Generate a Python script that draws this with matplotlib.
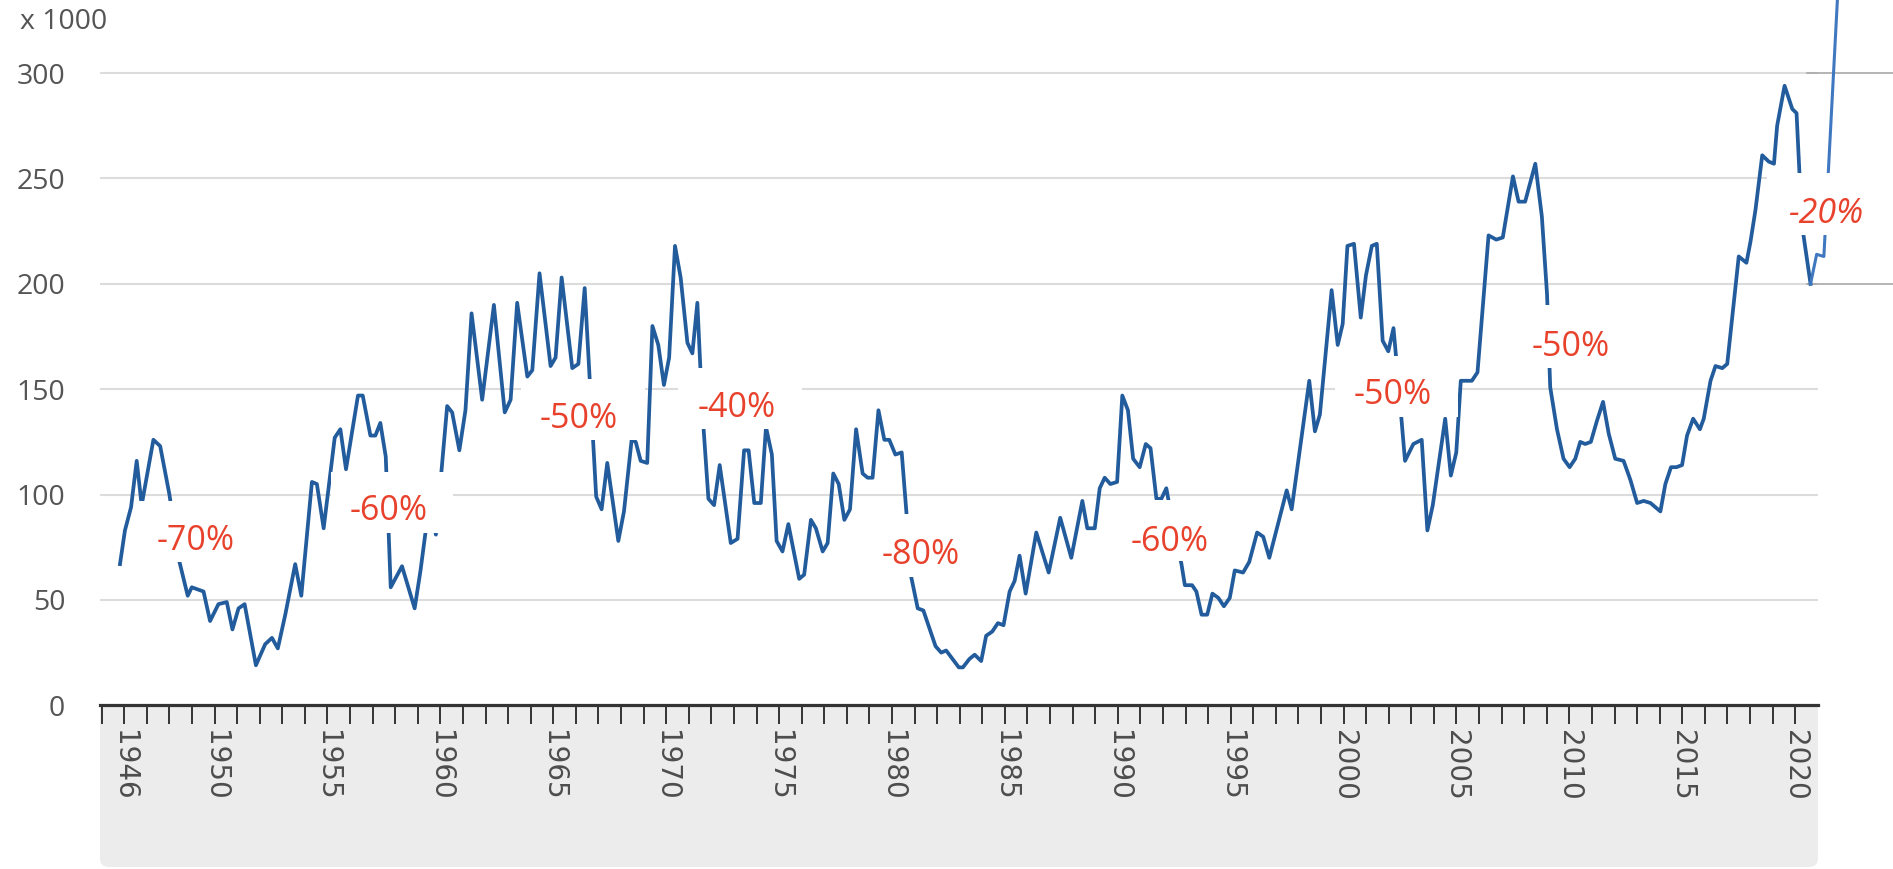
import matplotlib.pyplot as plt
from matplotlib.patches import Rectangle, FancyBboxPatch
from matplotlib.transforms import IdentityTransform

plt.rcParams['font.family'] = ['Open Sans', 'DejaVu Sans']

# series (x 1000)
years = [1945.81, 1946.03, 1946.30, 1946.55, 1946.77, 1947.29, 1947.59, 1948.00, 1948.40, 1948.81,
         1948.99, 1949.51, 1949.80, 1950.17, 1950.54, 1950.79, 1951.06, 1951.33, 1951.83, 1952.24,
         1952.54, 1952.80, 1953.13, 1953.57, 1953.84, 1954.31, 1954.53, 1954.83, 1955.32, 1955.57,
         1955.82, 1956.35, 1956.56, 1956.90, 1957.12, 1957.34, 1957.58, 1957.80, 1958.30, 1958.86,
         1959.12, 1959.34, 1959.55, 1959.80, 1960.30, 1960.52, 1960.84, 1961.11, 1961.38, 1961.85,
         1962.37, 1962.85, 1963.11, 1963.40, 1963.85, 1964.07, 1964.39, 1964.88, 1965.10, 1965.37,
         1965.84, 1966.11, 1966.39, 1966.90, 1967.14, 1967.39, 1967.88, 1968.13, 1968.47, 1968.65,
         1968.87, 1969.16, 1969.39, 1969.65, 1969.90, 1970.13, 1970.39, 1970.64, 1970.94, 1971.16,
         1971.38, 1971.60, 1971.87, 1972.12, 1972.37, 1972.86, 1973.16, 1973.45, 1973.65, 1973.90,
         1974.19, 1974.42, 1974.68, 1974.89, 1975.15, 1975.41, 1975.89, 1976.11, 1976.41, 1976.63,
         1976.93, 1977.15, 1977.40, 1977.64, 1977.89, 1978.14, 1978.41, 1978.70, 1978.92, 1979.14,
         1979.40, 1979.66, 1979.88, 1980.15, 1980.43, 1980.65, 1980.85, 1981.14, 1981.39, 1981.93,
         1982.18, 1982.40, 1982.96, 1983.14, 1983.43, 1983.66, 1983.95, 1984.17, 1984.44, 1984.69,
         1984.94, 1985.21, 1985.43, 1985.65, 1985.92, 1986.39, 1986.94, 1987.45, 1987.94, 1988.43,
         1988.65, 1988.98, 1989.20, 1989.42, 1989.67, 1989.97, 1990.20, 1990.45, 1990.68, 1990.97,
         1991.24, 1991.45, 1991.71, 1991.93, 1992.15, 1992.45, 1992.82, 1992.97, 1993.29, 1993.48,
         1993.71, 1993.96, 1994.19, 1994.45, 1994.70, 1994.96, 1995.18, 1995.55, 1995.82, 1996.17,
         1996.44, 1996.71, 1997.48, 1997.70, 1998.48, 1998.73, 1998.95, 1999.47, 1999.74, 1999.96,
         2000.17, 2000.46, 2000.76, 2000.99, 2001.25, 2001.47, 2001.73, 2001.98, 2002.21, 2002.45,
         2002.72, 2003.09, 2003.46, 2003.71, 2003.95, 2004.50, 2004.75, 2004.99, 2005.19, 2005.68,
         2005.93, 2006.42, 2006.76, 2007.05, 2007.50, 2007.75, 2008.04, 2008.49, 2008.78, 2009.01,
         2009.15, 2009.45, 2009.74, 2010.01, 2010.26, 2010.48, 2010.70, 2010.95, 2011.22, 2011.49,
         2011.74, 2012.03, 2012.40, 2012.70, 2013.00, 2013.29, 2013.59, 2014.03, 2014.25, 2014.50,
         2014.74, 2014.99, 2015.21, 2015.48, 2015.78, 2015.95, 2016.25, 2016.47, 2016.77, 2016.99,
         2017.21, 2017.50, 2017.84, 2018.02, 2018.24, 2018.54, 2018.83, 2019.06, 2019.20, 2019.53,
         2019.87, 2020.06, 2020.30, 2020.68]
values = [67, 83, 94, 116, 95, 126, 123, 100, 70, 52,
          56, 54, 40, 48, 49, 36, 46, 48, 19, 29,
          32, 27, 43, 67, 52, 106, 105, 84, 127, 131,
          112, 147, 147, 128, 128, 134, 118, 56, 66, 46,
          64, 82, 95, 81, 142, 139, 121, 140, 186, 145,
          190, 139, 145, 191, 156, 159, 205, 161, 165, 203,
          160, 162, 198, 99, 93, 115, 78, 92, 126, 125,
          116, 115, 180, 171, 152, 165, 218, 203, 172, 167,
          191, 140, 98, 95, 114, 77, 79, 121, 121, 96,
          96, 132, 119, 78, 73, 86, 60, 62, 88, 84,
          73, 77, 110, 105, 88, 93, 131, 110, 108, 108,
          140, 126, 126, 119, 120, 90, 61, 46, 45, 28,
          25, 26, 18, 18, 22, 24, 21, 33, 35, 39,
          38, 54, 59, 71, 53, 82, 63, 89, 70, 97,
          84, 84, 103, 108, 105, 106, 147, 140, 117, 113,
          124, 122, 98, 98, 103, 85, 67, 57, 57, 54,
          43, 43, 53, 51, 47, 51, 64, 63, 68, 82,
          80, 70, 102, 93, 154, 130, 138, 197, 171, 181,
          218, 219, 184, 204, 218, 219, 173, 168, 179, 150,
          116, 124, 126, 83, 95, 136, 109, 120, 154, 154,
          158, 223, 221, 222, 251, 239, 239, 257, 232, 195,
          151, 131, 117, 113, 117, 125, 124, 125, 135, 144,
          129, 117, 116, 107, 96, 97, 96, 92, 105, 113,
          113, 114, 128, 136, 131, 136, 154, 161, 160, 162,
          184, 213, 210, 220, 235, 261, 258, 257, 275, 294,
          283, 281, 228, 200]

# last stretch, drawn lighter in the picture
tail_years = [2020.68, 2020.95, 2021.27, 2021.87]
tail_values = [200, 214, 213, 335]

year_ticks = list(range(1945, 2021))
year_labels = [str(y) if (y == 1946 or (y % 5 == 0 and y >= 1950)) else '' for y in year_ticks]
value_ticks = [0, 50, 100, 150, 200, 250, 300]

drops = ['-70%', '-60%', '-50%', '-40%', '-80%', '-60%', '-50%', '-50%', '-20%']

# layout of the white label boxes (years / values)
boxes = [(1946.59, 67.8, 5.07, 29.3), (1955.16, 81.8, 5.40, 28.9), (1963.57, 125.9, 5.49, 28.8),
         (1970.52, 131.1, 5.49, 29.1), (1978.71, 60.7, 5.45, 29.9), (1989.70, 68.5, 5.40, 28.7),
         (1999.62, 137.0, 5.45, 28.8), (2008.17, 160.1, 4.61, 29.9), (2018.75, 223.1, 5.70, 29.4)]
text_pos = [(1947.44, 73.9), (1956.00, 87.7), (1964.41, 131.6), (1971.41, 136.8), (1979.55, 67.1),
            (1990.55, 73.2), (2000.46, 143.0), (2008.31, 165.8), (2019.68, 228.9)]

W, H = 1893, 869
fig = plt.figure(figsize=(W / 100, H / 100), dpi=100)
ax = fig.add_axes([100 / W, (H - 705.3) / H, 1718 / W, 705.3 / H])

# grey band under the axis
band = FancyBboxPatch((100, 2), 1718, 190, boxstyle='round,pad=0,rounding_size=9',
                      transform=IdentityTransform(), facecolor='#ececec', edgecolor='none', zorder=-1)
fig.add_artist(band)

ax.plot(years, values, color='#235c9c', lw=2.7, zorder=2, solid_joinstyle='round')
ax.plot(tail_years, tail_values, color='#3f78c0', lw=2.2, zorder=2, clip_on=False)

# darker stubs of the pasted-in extension
for v in (300, 200):
    ax.plot([2020.52, 2024.5], [v, v], color='#a8a8a8', lw=1.2, zorder=1.5, clip_on=False)

for (x0, y0, w, h), (tx, ty), s in zip(boxes, text_pos, drops):
    ax.add_patch(Rectangle((x0, y0), w, h, facecolor='white', edgecolor='none',
                           zorder=3, clip_on=False))
    ax.text(tx, ty, s, color='#e8412c', fontsize=24.5, va='baseline', ha='left', zorder=4,
            style='italic' if s == '-20%' else 'normal', clip_on=False)

ax.set_xlim(1944.925, 2021.01)
ax.set_ylim(0, 334.7)
ax.set_xticks(year_ticks)
ax.set_xticklabels(year_labels, rotation=270, family=['DejaVu Sans'])
ax.set_yticks(value_ticks)
ax.set_yticklabels([str(v) for v in value_ticks])
ax.yaxis.grid(True, color='#dcdcdc', lw=1.5)
ax.set_axisbelow(True)

for side in ('top', 'right', 'left'):
    ax.spines[side].set_visible(False)
ax.spines['bottom'].set_color('#333333')
ax.spines['bottom'].set_linewidth(2.3)
ax.spines['bottom'].set_zorder(5)

ax.tick_params(axis='x', direction='out', length=13.7, width=1.4, color='#333333',
               pad=4.3, labelsize=20, labelcolor='#4d4d4d')
ax.tick_params(axis='y', length=0, pad=25, labelsize=20.5, labelcolor='#555555')

fig.text(20 / W, 1 - 22 / H, 'x 1000', fontsize=20.5, color='#555555', va='center', ha='left')

fig.savefig('out.png', dpi=100)
